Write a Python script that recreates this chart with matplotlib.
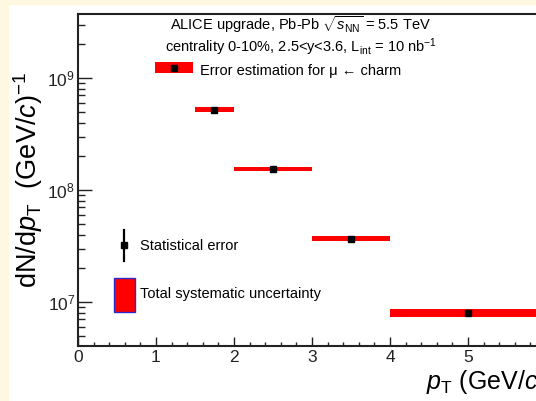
import matplotlib
matplotlib.use("Agg")
import matplotlib.pyplot as plt
from matplotlib.patches import Rectangle
from matplotlib.ticker import LogLocator, NullFormatter, FixedLocator
import numpy as np

plt.rcParams['font.family'] = ['Liberation Sans', 'DejaVu Sans']
plt.rcParams['mathtext.fontset'] = 'custom'
plt.rcParams['mathtext.rm'] = 'Liberation Sans'
plt.rcParams['mathtext.it'] = 'Liberation Sans:italic'
plt.rcParams['mathtext.sf'] = 'Liberation Sans'

# pT bins (GeV/c) and yields dN/dpT
bin_lo = [1.5, 2.0, 3.0, 4.0]
bin_hi = [2.0, 3.0, 4.0, 6.0]
pt_center = [1.75, 2.5, 3.5, 5.0]
yields = [5.2e8, 1.55e8, 3.69e7, 8.0e6]
sys_rel = [0.05, 0.045, 0.05, 0.085]

x_ticks = [0, 1, 2, 3, 4, 5, 6]
x_ticklabels = ['0', '1', '2', '3', '4', '5', '6']

W, H = 536, 401
fig = plt.figure(figsize=(W / 100, H / 100), dpi=100, facecolor='white')
cream = '#fff8e1'
fig.patches.append(Rectangle((0, 0), 8 / W, 1, transform=fig.transFigure, color=cream, zorder=-10))
fig.patches.append(Rectangle((0, 1 - 4 / H), 1, 4 / H, transform=fig.transFigure, color=cream, zorder=-10))

L, R, T, B = 78, 546, 14, 346
ax = fig.add_axes([L / W, (H - B) / H, (R - L) / W, (B - T) / H])
ax.set_xlim(0, 6)
ax.set_yscale('log')
ax.set_ylim(4.05e6, 3.73e9)

# systematic boxes
lo = np.array(yields) * (1 - np.array(sys_rel))
hi = np.array(yields) * (1 + np.array(sys_rel))
widths = np.array(bin_hi) - np.array(bin_lo)
ax.bar(pt_center, hi - lo, bottom=lo, width=widths, color='#ff0000', linewidth=0, zorder=2)
ax.plot(pt_center, yields, 's', color='black', ms=4.5, zorder=3)

# axes styling
for s in ['left', 'bottom', 'top']:
    ax.spines[s].set_linewidth(1.5)
    ax.spines[s].set_color('#222222')
ax.spines['right'].set_visible(False)

ax.xaxis.set_major_locator(FixedLocator(x_ticks))
ax.set_xticklabels(x_ticklabels)
ax.xaxis.set_minor_locator(FixedLocator(np.arange(0, 6.01, 0.2)))
ax.yaxis.set_major_locator(LogLocator(base=10, numticks=10))
ax.yaxis.set_minor_locator(LogLocator(base=10, subs=np.arange(2, 10), numticks=20))
ax.yaxis.set_minor_formatter(NullFormatter())
ax.tick_params(axis='both', which='both', direction='in', top=False, right=False,
               labelsize=12.5, colors='#222222')
ax.tick_params(axis='y', which='major', length=10, width=1.0, pad=2)
ax.tick_params(axis='y', which='minor', length=5, width=1.0)
ax.tick_params(axis='x', which='major', length=6.5, width=1.0, pad=3)
ax.tick_params(axis='x', which='minor', length=3.2, width=1.0)

ax.set_ylabel(r'dN/d$p_{\mathrm{T}}$  (GeV/$c$)$^{-1}$', fontsize=19.5, labelpad=2)
ax.set_xlabel(r'$p_{\mathrm{T}}$ (GeV/$c$)', fontsize=18, loc='right', labelpad=2)

tr = ax.transAxes
def fx(px):
    return (px - L) / (R - L)
def fy(py):
    return (B - py) / (B - T)

ax.text(fx(300), fy(25), r'ALICE upgrade, Pb-Pb $\sqrt{s_{\mathrm{NN}}}$ = 5.5 TeV',
        transform=tr, ha='center', va='center', fontsize=10.5)
ax.text(fx(301), fy(47), r'centrality 0-10%, 2.5<y<3.6, L$_{\mathrm{int}}$ = 10 nb$^{-1}$',
        transform=tr, ha='center', va='center', fontsize=10.5)

# legend: error estimation
ax.add_patch(Rectangle((fx(155), fy(73)), fx(193) - fx(155), fy(62) - fy(73),
                       transform=tr, color='#ff0000', linewidth=0, zorder=4))
ax.plot([fx(174)], [fy(67.5)], 's', color='black', ms=4.5, transform=tr, zorder=5)
ax.text(fx(200), fy(71), 'Error estimation for μ ← charm',
        transform=tr, ha='left', va='center', fontsize=10.5)

# legend: statistical error
ax.plot([fx(124), fx(124)], [fy(261), fy(230)], color='black', lw=1.6, transform=tr, zorder=5)
ax.plot([fx(124)], [fy(245)], 's', color='black', ms=4, transform=tr, zorder=5)
ax.text(fx(140), fy(246), 'Statistical error', transform=tr, ha='left', va='center', fontsize=10.5)

# legend: systematic uncertainty
ax.add_patch(Rectangle((fx(114), fy(312)), fx(135) - fx(114), fy(278) - fy(312),
                       transform=tr, facecolor='#ff0000', edgecolor='#2a2ad0', linewidth=1.0, zorder=4))
ax.text(fx(140), fy(294), 'Total systematic uncertainty', transform=tr, ha='left', va='center', fontsize=10.5)

fig.savefig('out.png', dpi=100, facecolor=fig.get_facecolor())
